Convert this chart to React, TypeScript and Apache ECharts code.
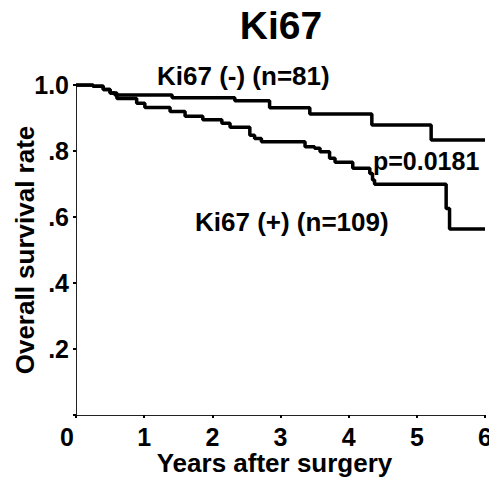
import React, { useEffect, useRef } from "react";
import * as echarts from "echarts";

// Kaplan–Meier step data: [years, survival after the event]
const negTimes = [0, 0.25, 0.4, 0.5, 0.57, 1.41, 2.33, 2.84, 3.43, 4.34, 5.21, 6.0];
const negSurv = [1.0, 0.996, 0.986, 0.976, 0.97, 0.961, 0.952, 0.931, 0.912, 0.879, 0.833, 0.833];

const posTimes = [
  0, 0.25, 0.4, 0.5, 0.6, 0.89, 1.01, 1.38, 1.6, 1.86, 2.14, 2.26, 2.55, 2.62, 2.72,
  3.36, 3.5, 3.58, 3.72, 3.8, 4.06, 4.31, 4.35, 4.38, 5.43, 5.48, 6.0,
];
const posSurv = [
  1.0, 0.996, 0.986, 0.976, 0.959, 0.945, 0.932, 0.92, 0.905, 0.895, 0.884, 0.872, 0.848,
  0.838, 0.828, 0.813, 0.808, 0.798, 0.778, 0.766, 0.748, 0.732, 0.712, 0.699, 0.626, 0.564,
  0.564,
];

const xTicks = ["0", "1", "2", "3", "4", "5", "6"];
const yTickLabels: Record<string, string> = { "1": "1.0", "0.8": ".8", "0.6": ".6", "0.4": ".4", "0.2": ".2", "0": "" };

const titleText = "Ki67";
const negLabel = "Ki67 (-) (n=81)";
const posLabel = "Ki67 (+) (n=109)";
const pLabel = "p=0.0181";
const xName = "Years after surgery";
const yName = "Overall survival rate";

const FONT = '"Liberation Sans", Arial, Helvetica, sans-serif';

export default function App() {
  const ref = useRef<HTMLDivElement>(null);
  useEffect(() => {
    document.body.style.margin = "0";
    if (!ref.current) return;
    const chart = echarts.init(ref.current, undefined, { renderer: "svg" });
    const textBase = { fontFamily: FONT, fontWeight: "bold" as const, color: "#000" };
    chart.setOption({
      animation: false,
      backgroundColor: "#fff",
      grid: { left: 76, right: 4, top: 85, bottom: 67, containLabel: false, outerBoundsMode: "none" },
      xAxis: {
        type: "value",
        min: 0,
        max: 6,
        interval: 1,
        name: xName,
        nameLocation: "middle",
        nameGap: 35,
        nameMoveOverlap: false,
        nameTextStyle: { ...textBase, fontSize: 26, padding: [0, 12, 0, 0] },
        axisLine: { show: true, lineStyle: { color: "#222", width: 1 } },
        axisTick: { show: true, length: 3, inside: false, lineStyle: { color: "#000", width: 2 } },
        splitLine: { show: false },
        axisLabel: {
          ...textBase,
          fontSize: 25,
          margin: 9,
          hideOverlap: false,
          formatter: (v: number) => (v === 0 ? "{z|" + xTicks[0] + "}" : xTicks[Math.round(v)]),
          rich: { z: { ...textBase, fontSize: 25, padding: [0, 18, 0, 0] } },
        },
      },
      yAxis: {
        type: "value",
        min: 0,
        max: 1,
        interval: 0.2,
        name: yName,
        nameLocation: "middle",
        nameGap: 38,
        nameMoveOverlap: false,
        nameTextStyle: { ...textBase, fontSize: 26 },
        axisLine: { show: true, lineStyle: { color: "#222", width: 1 } },
        axisTick: { show: true, length: 3, lineStyle: { color: "#000", width: 2 } },
        splitLine: { show: false },
        axisLabel: {
          ...textBase,
          fontSize: 25,
          margin: 7,
          formatter: (v: number) => {
            const k = String(Math.round(v * 10) / 10);
            return yTickLabels[k] ?? "";
          },
        },
      },
      series: [
        {
          type: "line",
          name: negLabel,
          step: "end",
          symbol: "none",
          lineStyle: { color: "#000", width: 3.5 },
          data: negTimes.map((t, i) => [t, negSurv[i]]),
          z: 3,
        },
        {
          type: "line",
          name: posLabel,
          step: "end",
          symbol: "none",
          lineStyle: { color: "#000", width: 3.5 },
          data: posTimes.map((t, i) => [t, posSurv[i]]),
          z: 3,
        },
      ],
      graphic: [
        {
          type: "text",
          x: 281,
          y: 25,
          style: { text: titleText, font: `bold 39px ${FONT}`, fill: "#000", align: "center", verticalAlign: "middle" },
        },
        {
          type: "text",
          x: 157,
          y: 76,
          style: { text: negLabel, font: `bold 26px ${FONT}`, fill: "#000", align: "left", verticalAlign: "middle" },
        },
        {
          type: "text",
          x: 373,
          y: 161,
          style: { text: pLabel, font: `bold 25px ${FONT}`, fill: "#000", align: "left", verticalAlign: "middle" },
        },
        {
          type: "text",
          x: 195,
          y: 222,
          style: { text: posLabel, font: `bold 26px ${FONT}`, fill: "#000", align: "left", verticalAlign: "middle" },
        },
      ],
    });
    return () => chart.dispose();
  }, []);
  return <div ref={ref} style={{ width: 489, height: 482 }} />;
}
